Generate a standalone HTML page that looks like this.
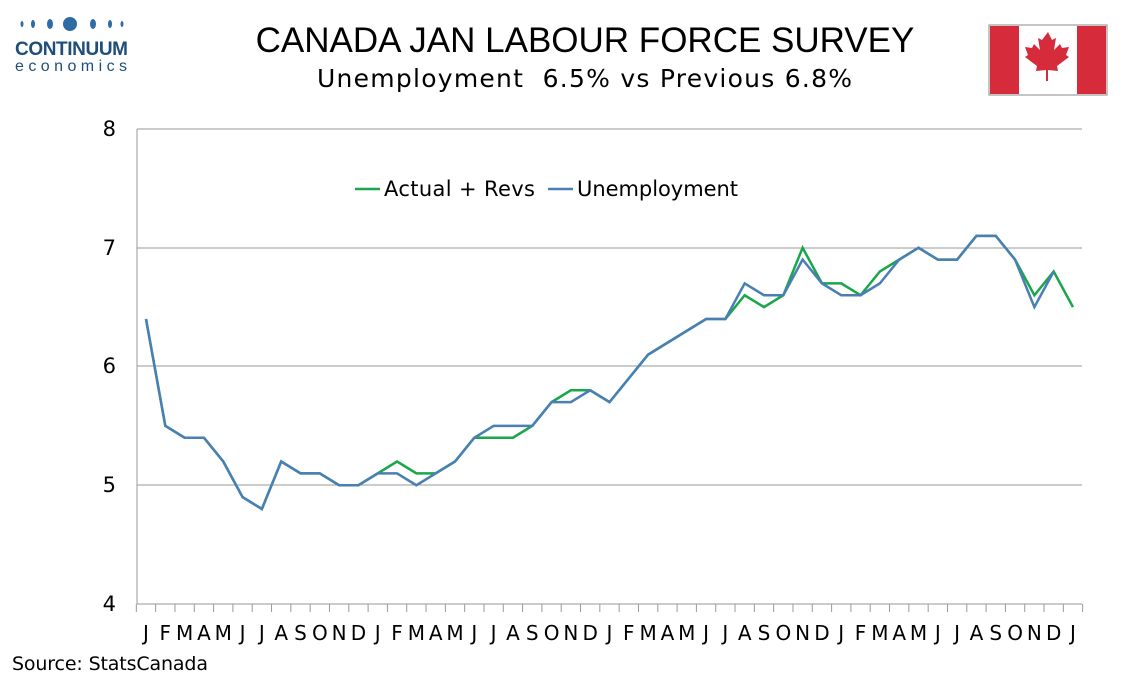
<!DOCTYPE html>
<html><head><meta charset="utf-8"><style>
body{margin:0;background:#fff;width:1134px;height:680px;overflow:hidden;font-family:"Liberation Sans",sans-serif}
</style></head><body>
<svg width="1134" height="680" xmlns="http://www.w3.org/2000/svg" font-family="Liberation Sans, sans-serif">
<g fill="#2e6da4">
<ellipse cx="22" cy="24" rx="1.5" ry="3"/><ellipse cx="33" cy="24" rx="2" ry="4"/><ellipse cx="50" cy="24" rx="3" ry="5"/>
<circle cx="70" cy="24" r="7"/><ellipse cx="93" cy="24" rx="3" ry="5"/><ellipse cx="110" cy="24" rx="2" ry="4"/><ellipse cx="122" cy="24" rx="1.5" ry="3"/>
</g>
<text x="15" y="55" font-size="19" fill="#1f4e79" font-weight="bold" textLength="113">CONTINUUM</text>
<text x="15" y="71" font-size="16" fill="#1f4e79" textLength="113" letter-spacing="1">economics</text>
<text x="585" y="52" font-size="35" text-anchor="middle" fill="#000">CANADA JAN LABOUR FORCE SURVEY</text>
<text x="317" y="87" font-size="25" font-family="DejaVu Sans, sans-serif" fill="#000" textLength="535" xml:space="preserve">Unemployment  6.5% vs Previous 6.8%</text>
<rect x="989" y="25" width="118" height="70" fill="#fff" stroke="#888"/>
<rect x="990" y="26" width="29" height="68" fill="#d52b3a"/>
<rect x="1077" y="26" width="29" height="68" fill="#d52b3a"/>
<path d="M1048 32 l4 8 4-2 -2 12 6-6 2 4 7-1 -3 8 3 2 -12 9 1 5 -10-1 v11 h-2 v-11 l-10 1 1-5 -12-9 3-2 -3-8 7 1 2-4 6 6 -2-12 4 2z" fill="#d52b3a"/>
<g stroke="#999" stroke-width="1">
<line x1="137" y1="129" x2="1082" y2="129"/>
<line x1="137" y1="248" x2="1082" y2="248"/>
<line x1="137" y1="366" x2="1082" y2="366"/>
<line x1="137" y1="485" x2="1082" y2="485"/>
<line x1="137" y1="604" x2="1082" y2="604"/>
<line x1="137" y1="129" x2="137" y2="604"/>
</g>
<g font-size="21" text-anchor="end" fill="#000" font-family="DejaVu Sans, sans-serif">
<text x="116" y="136">8</text><text x="116" y="255">7</text><text x="116" y="373">6</text><text x="116" y="492">5</text><text x="116" y="611">4</text>
</g>
<g id="ticks" stroke="#999"></g>
<g id="lab" font-size="20" text-anchor="middle" fill="#000" font-family="DejaVu Sans, sans-serif"></g>
<polyline id="g" fill="none" stroke="#1aa64a" stroke-width="2.5"/>
<polyline id="b" fill="none" stroke="#4a7fb5" stroke-width="2.5"/>
<line x1="355" y1="189" x2="380" y2="189" stroke="#1aa64a" stroke-width="2.5"/>
<text x="384" y="196" font-size="21" font-family="DejaVu Sans, sans-serif" textLength="151">Actual + Revs</text>
<line x1="548" y1="189" x2="573" y2="189" stroke="#4a7fb5" stroke-width="2.5"/>
<text x="577" y="196" font-size="21" font-family="DejaVu Sans, sans-serif" textLength="161">Unemployment</text>
<text x="12" y="670" font-size="19" font-family="DejaVu Sans, sans-serif" textLength="196">Source: StatsCanada</text>
</svg>
<script>
var b=[6.4,5.5,5.4,5.4,5.2,4.9,4.8,5.2,5.1,5.1,5.0,5.0,5.1,5.1,5.0,5.1,5.2,5.4,5.5,5.5,5.5,5.7,5.7,5.8,5.7,5.9,6.1,6.2,6.3,6.4,6.4,6.7,6.6,6.6,6.9,6.7,6.6,6.6,6.7,6.9,7.0,6.9,6.9,7.1,7.1,6.9,6.5,6.8];
var g=b.slice();g[13]=5.2;g[14]=5.1;g[18]=5.4;g[19]=5.4;g[22]=5.8;g[31]=6.6;g[32]=6.5;g[34]=7.0;g[36]=6.7;g[38]=6.8;g[46]=6.6;g.push(6.5);
function X(i){return 146+i*927/48}function Y(v){return 604-(v-4)*118.75}
document.getElementById('b').setAttribute('points',b.map((v,i)=>X(i)+','+Y(v)).join(' '));
document.getElementById('g').setAttribute('points',g.map((v,i)=>X(i)+','+Y(v)).join(' '));
var m="JFMAMJJASOND",L='',T='';
for(var i=0;i<49;i++){L+='<text x="'+X(i)+'" y="640">'+m[i%12]+'</text>';}
for(var i=0;i<=49;i++){var x=X(i)-927/96;T+='<line x1="'+x+'" y1="604" x2="'+x+'" y2="612"/>';}
document.getElementById('lab').innerHTML=L;document.getElementById('ticks').innerHTML=T;
</script>
</body></html>
